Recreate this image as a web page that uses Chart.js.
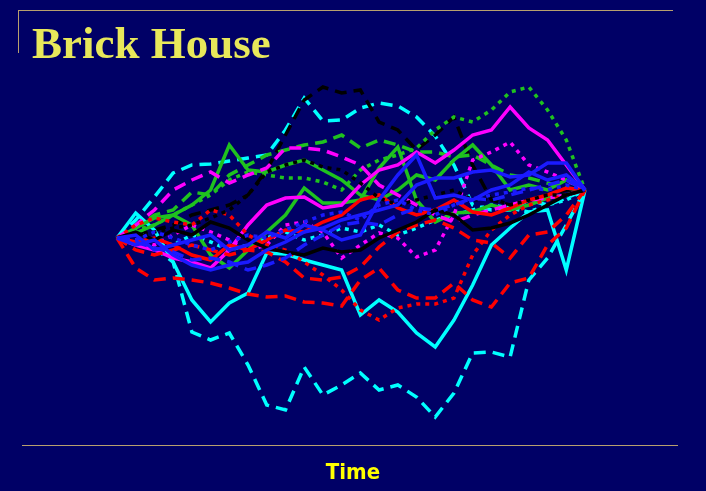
<!DOCTYPE html>
<html>
<head>
<meta charset="utf-8">
<script src="https://cdn.jsdelivr.net/npm/chart.js@4.4.1/dist/chart.umd.min.js"></script>
<style>
  html, body { margin: 0; padding: 0; background: #000066; }
  #wrap { position: relative; width: 706px; height: 491px; overflow: hidden; background: #000066; }
  #chart { position: absolute; left: 0; top: 0; }
  .rule { position: absolute; background: #b89f6e; }
  #title {
    position: absolute; left: 32px; top: 17px;
    font: bold 45px "Liberation Serif", "DejaVu Serif", serif;
    color: #e8e85a; white-space: nowrap;
  }
  #xlabel {
    position: absolute; left: 0; width: 706px; top: 459px; text-align: center;
    font: bold 22px "Liberation Sans Narrow", "DejaVu Sans Condensed", sans-serif;
    color: #ffff00;
  }
</style>
</head>
<body>
<div id="wrap">
  <canvas id="chart" width="706" height="491"></canvas>
  <div class="rule" style="left:18px; top:10px; width:655px; height:1px;"></div>
  <div class="rule" style="left:18px; top:10px; width:1px; height:43px;"></div>
  <div class="rule" style="left:22px; top:445px; width:656px; height:1px;"></div>
  <div id="title">Brick House</div>
  <div id="xlabel">Time</div>
</div>
<script>
// time steps
const steps = Array.from({ length: 26 }, (_, i) => i);

// path values, all start at 0 and end at 48
const cyanDashLow  = [0,-2,-10,-24,-94,-102,-95,-127,-167,-172,-129,-157,-147,-135,-152,-147,-159,-179,-155,-115,-114,-119,-42,-20,13,48];
const cyanSolid    = [0,25,8,-24,-62,-84,-65,-55,-15,-16,-22,-27,-32,-77,-62,-74,-95,-109,-82,-47,-7,10,26,28,-32,48];
const cyanDashHigh = [0,18,41,65,73,74,77,80,83,108,140,117,118,130,135,132,121,102,73,33,28,28,38,33,40,48];
const cyanDot      = [0,6,-2,-7,3,-4,-12,-7,0,6,-2,3,10,6,13,3,10,18,23,28,33,30,26,33,38,48];
const blackDash    = [0,3,8,13,23,28,33,43,68,103,138,151,145,148,116,108,88,103,121,73,38,33,38,43,48,48];
const blackSolid   = [0,6,-2,8,3,16,10,-2,-10,-14,-17,-10,-14,-12,0,8,16,28,23,8,10,15,23,33,43,48];
const blackDot     = [0,3,6,10,13,20,28,43,66,73,78,71,68,55,40,33,38,43,48,38,40,33,38,43,43,48];
const greenSolidA  = [0,10,20,23,13,-17,-30,-12,6,23,50,35,35,38,70,91,38,16,25,26,33,28,33,40,43,48];
const greenSolidB  = [0,5,13,23,33,48,93,68,66,73,78,68,58,43,38,48,63,58,78,93,73,48,53,48,58,48];
const greenDash    = [0,10,23,28,46,43,63,73,83,88,93,96,103,90,98,93,86,86,81,83,73,63,60,55,50,48];
const greenDot     = [0,8,13,23,33,43,58,66,63,60,60,56,48,68,78,83,90,108,121,116,128,146,151,128,98,48];
const magSolid     = [0,-7,-12,-20,-24,-30,-12,13,33,40,41,30,33,53,68,73,86,75,88,103,108,131,110,98,73,48];
const magDash      = [0,13,28,48,58,66,55,63,70,90,90,88,81,73,53,43,33,23,16,23,28,33,38,40,43,48];
const magDot       = [0,-2,-7,3,13,6,-2,-12,-7,13,16,6,-20,-7,5,0,-19,-12,23,78,86,96,73,66,58,48];
const redSolid     = [0,-4,0,-7,-17,-22,-7,-12,-2,8,6,16,23,38,43,30,23,28,38,26,23,30,38,43,50,48];
const redDashLow   = [0,-30,-42,-40,-42,-45,-50,-56,-59,-58,-64,-65,-68,-42,-30,-52,-60,-60,-45,-62,-69,-45,-40,-7,10,48];
const redDashMid   = [0,-12,-17,-12,-7,-12,-17,-12,-14,-24,-40,-42,-39,-29,-9,6,13,18,10,-2,-5,-20,3,6,23,48];
const redDot       = [0,13,20,16,13,28,23,3,-7,-12,-24,-37,-52,-72,-82,-70,-66,-66,-60,-17,8,23,33,38,43,48];
const blueSolidA   = [0,-7,-2,-17,-27,-32,-27,-24,-12,-4,6,10,18,23,28,33,53,60,60,66,68,61,63,75,75,48];
const blueSolidB   = [0,3,-12,-7,-2,3,-12,-7,6,0,13,8,-2,3,38,63,83,40,43,38,48,53,66,58,63,48];
const blueDash     = [0,-4,-10,-14,-22,-20,-24,-32,-27,-20,-7,3,13,16,13,23,30,28,33,40,38,43,48,53,58,48];
const blueDot      = [0,-2,6,0,-7,-12,-4,3,0,8,16,23,26,18,33,38,28,23,33,38,43,46,50,48,53,48];

const DASH = [12, 7];
const DOT = [4, 5];

// [data, colour, dash]
const paths = [
  [blueDot, '#1a1aff', DOT],
  [blueDash, '#1a1aff', DASH],
  [blueSolidA, '#1a1aff', []],
  [blueSolidB, '#1a1aff', []],
  [blackSolid, '#000000', []],
  [blackDot, '#000000', DOT],
  [redSolid, '#ff0000', []],
  [redDashMid, '#ff0000', DASH],
  [redDot, '#ff0000', DOT],
  [redDashLow, '#ff0000', DASH],
  [magDot, '#ff00ff', DOT],
  [magDash, '#ff00ff', DASH],
  [magSolid, '#ff00ff', []],
  [greenSolidA, '#1fc21f', []],
  [greenSolidB, '#1fc21f', []],
  [greenDash, '#1fc21f', DASH],
  [greenDot, '#1fc21f', DOT],
  [cyanDot, '#00ffff', DOT],
  [cyanSolid, '#00ffff', []],
  [blackDash, '#000000', DASH],
  [cyanDashHigh, '#00ffff', DASH],
  [cyanDashLow, '#00ffff', DASH],
];

new Chart(document.getElementById('chart'), {
  type: 'line',
  data: {
    labels: steps,
    datasets: paths.map(([data, color, dash]) => ({
      data: data,
      borderColor: color,
      borderWidth: 3.5,
      borderDash: dash,
      pointRadius: 0,
      tension: 0,
      fill: false,
    }))
  },
  options: {
    responsive: false,
    animation: false,
    devicePixelRatio: 1,
    layout: { padding: { left: 117, right: 121, top: 78, bottom: 53 } },
    plugins: { legend: { display: false }, tooltip: { enabled: false } },
    scales: {
      x: { display: false, offset: false },
      y: { display: false, min: -200, max: 160 }
    }
  }
});
</script>
</body>
</html>
